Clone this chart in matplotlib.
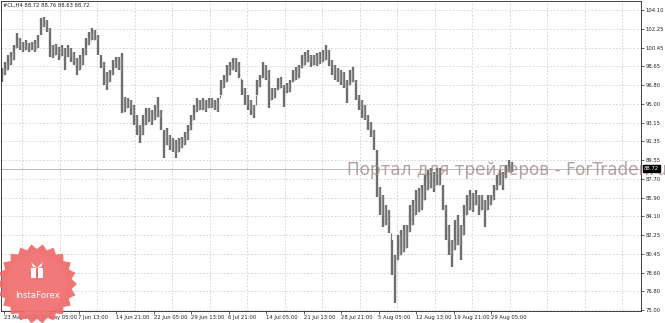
import matplotlib
matplotlib.use("Agg")
import matplotlib.pyplot as plt
from matplotlib.patches import Polygon, Rectangle
import numpy as np

W, H = 665, 323

title_text = "#CL,H4 88.72 88.76 88.63 88.72"
last_price = 88.72
watermark = "Портал для трейдеров - ForTrader.ru"

bar_high = [98.47, 99.06, 99.74, 100.03, 100.71, 101.87, 101.38, 100.99, 101.19, 100.90,
            100.99, 101.19, 101.68, 103.32, 103.42, 103.13, 102.35, 100.71, 100.80, 100.51,
            100.71, 100.41, 100.71, 100.41, 100.03, 99.44, 99.74, 100.41, 101.38, 101.97,
            102.35, 102.16, 101.68, 99.74, 99.06, 98.09, 98.28, 99.25, 99.54, 99.54,
            99.93, 95.66, 95.56, 95.37, 94.89, 93.92, 92.95, 93.92, 94.59, 94.59,
            94.40, 94.89, 95.66, 94.40, 92.46, 92.65, 91.98, 91.68, 91.49, 91.68,
            91.78, 92.27, 92.95, 93.92, 94.89, 95.56, 95.37, 95.56, 95.37, 95.56,
            95.56, 95.37, 95.56, 97.31, 97.80, 98.77, 99.06, 99.44, 99.44, 99.06,
            97.31, 96.54, 95.86, 95.37, 94.89, 97.31, 97.80, 99.06, 98.77, 98.28,
            96.54, 96.54, 97.50, 97.60, 96.83, 97.02, 97.31, 98.28, 98.57, 98.77,
            99.74, 100.03, 100.22, 99.74, 99.74, 99.93, 100.03, 100.22, 100.71, 100.22,
            99.25, 98.77, 98.47, 98.28, 98.09, 97.31, 98.28, 98.57, 97.31, 95.86,
            95.37, 94.89, 93.92, 93.24, 92.46, 90.52, 86.93, 86.16, 85.19, 84.70,
            81.79, 80.34, 82.27, 82.76, 83.25, 83.25, 85.19, 85.67, 86.64, 86.83,
            87.13, 88.10, 88.58, 88.77, 88.39, 88.77, 88.77, 87.13, 85.19, 83.25,
            81.79, 83.73, 84.22, 83.25, 85.19, 86.16, 86.64, 86.35, 86.64, 86.16,
            86.16, 85.67, 86.16, 86.16, 87.13, 88.10, 88.58, 88.39, 89.06, 89.55,
            89.36]
bar_low = [97.12, 97.80, 98.28, 98.77, 99.25, 100.41, 100.22, 100.03, 100.22, 100.03,
           100.22, 100.03, 100.41, 101.68, 102.45, 101.97, 99.54, 99.44, 99.74, 99.25,
           99.64, 98.28, 99.54, 99.06, 98.77, 97.80, 98.28, 98.77, 99.74, 100.71,
           101.19, 101.19, 99.74, 98.47, 96.83, 96.34, 97.12, 97.80, 98.47, 98.28,
           94.11, 94.21, 94.59, 93.92, 92.95, 92.00, 91.20, 92.00, 92.95, 93.24,
           92.95, 93.43, 93.72, 92.46, 89.74, 91.01, 90.52, 90.33, 89.74, 90.33,
           90.71, 91.01, 91.49, 92.46, 93.43, 94.21, 94.40, 94.40, 94.21, 94.59,
           94.59, 94.40, 94.21, 95.86, 96.54, 97.12, 97.80, 98.28, 98.09, 97.50,
           95.86, 94.89, 94.40, 93.92, 93.62, 95.86, 96.63, 97.50, 97.31, 94.59,
           95.37, 95.56, 96.34, 96.54, 94.69, 96.05, 96.15, 97.12, 97.31, 97.50,
           98.47, 98.77, 99.06, 98.57, 98.77, 98.67, 98.86, 99.06, 99.25, 98.67,
           97.80, 97.31, 97.12, 96.83, 96.54, 95.08, 96.83, 97.12, 95.37, 94.40,
           93.62, 93.43, 92.46, 91.78, 90.52, 85.96, 84.22, 83.05, 83.25, 82.47,
           78.39, 75.68, 79.85, 80.34, 80.63, 81.01, 82.57, 83.25, 84.22, 84.51,
           84.70, 85.67, 86.64, 86.83, 86.45, 87.13, 87.13, 84.70, 81.79, 80.34,
           79.17, 80.82, 81.31, 79.85, 82.27, 84.22, 84.70, 84.51, 85.19, 84.22,
           84.70, 83.05, 84.70, 85.19, 85.67, 86.64, 87.13, 86.64, 87.77, 88.36,
           88.36]

price_ticks = [104.10, 102.25, 100.45, 98.65, 96.80, 95.00, 93.15, 91.35, 89.55,
               87.70, 85.90, 84.10, 82.25, 80.45, 78.60, 76.80, 75.00]

date_labels = ["23 May 2013", "31 May 05:00", "7 Jun 13:00", "14 Jun 21:00",
               "22 Jun 05:00", "29 Jun 13:00", "6 Jul 21:00", "14 Jul 05:00",
               "21 Jul 13:00", "28 Jul 21:00", "5 Aug 05:00", "12 Aug 13:00",
               "19 Aug 21:00", "29 Aug 05:00"]
date_pos = [0.5, 13, 25.5, 38, 50.5, 63, 75.5, 88, 100.5, 113, 125.5, 138, 150.5, 163]

fig = plt.figure(figsize=(W / 100, H / 100), dpi=100)
fig.patch.set_facecolor("white")

ax_left, ax_right, ax_top, ax_bottom = 0.5, 641, 1, 311
ax = fig.add_axes([ax_left / W, 1 - ax_bottom / H, (ax_right - ax_left) / W, (ax_bottom - ax_top) / H])
ax.set_facecolor("white")

px_per_bar = 3.0
x = np.arange(len(bar_high))
ax.set_xlim(-0.5, -0.5 + (ax_right - ax_left) / px_per_bar)
ax.set_ylim(74.903, 104.973)

# grid
for p in price_ticks:
    ax.axhline(p, color="#c8c8c8", lw=0.5, ls=(0, (2.5, 2.5)), zorder=0)
grid_x = [date_pos[0] + 6.25 + 12.5 * k for k in range(17)]
for g in grid_x:
    ax.axvline(g, color="#c8c8c8", lw=0.5, ls=(0, (2.5, 2.5)), zorder=0)

# bid line
ax.axhline(last_price, color="#b0b0b0", lw=0.6, zorder=1)

# bars, with thin connectors so the sequence reads as one dense bar chart
hi = np.array(bar_high)
lo = np.array(bar_low)
ax.vlines(x, lo, hi, colors="#6e6e6e", lw=1.7, zorder=2)
for i in range(len(x) - 1):
    a_lo, a_hi = lo[i], hi[i]
    b_lo, b_hi = lo[i + 1], hi[i + 1]
    if b_lo > a_hi:
        ax.vlines(x[i] + 0.5, a_hi, b_lo, colors="#7a7a7a", lw=0.9, zorder=2)
    elif b_hi < a_lo:
        ax.vlines(x[i] + 0.5, b_hi, a_lo, colors="#7a7a7a", lw=0.9, zorder=2)
    else:
        ax.vlines(x[i] + 0.5, max(a_lo, b_lo), min(a_hi, b_hi), colors="#8a8a8a", lw=0.9, zorder=2)

# axes
for s in ["left", "top", "right", "bottom"]:
    ax.spines[s].set_color("#222222")
    ax.spines[s].set_linewidth(0.6)
ax.yaxis.tick_right()
ax.set_yticks(price_ticks)
ax.set_yticklabels([f"{p:.2f}" for p in price_ticks], fontsize=3.8, color="#222222")
ax.tick_params(axis="y", length=2, width=0.5, pad=1.2, colors="#222222")
ax.set_xticks(date_pos)
ax.set_xticklabels(date_labels, fontsize=3.8, ha="left", color="#222222")
ax.tick_params(axis="x", length=2, width=0.5, pad=1.0, colors="#222222")

# watermark
fig.text(347 / W, 1 - 170 / H, watermark, fontsize=12.2, color="#9c8383", alpha=0.75,
         va="center", ha="left", zorder=10)

# current price box (drawn above the watermark)
fig.canvas.draw()
y_disp = ax.transData.transform((0, last_price))[1]
y_fig = fig.transFigure.inverted().transform((0, y_disp))[1]
fig.text(644 / W, y_fig, f"{last_price:.2f}", fontsize=3.8, color="white",
         va="center", ha="left", zorder=12,
         bbox=dict(boxstyle="square,pad=0.25", fc="black", ec="black"))

# title
fig.text(3 / W, 1 - 5.5 / H, title_text, fontsize=3.8, color="#222222", va="center", ha="left")

# InstaForex logo
lax = fig.add_axes([0, 0, 80 / W, 83 / H])
lax.set_xlim(0, 80)
lax.set_ylim(323, 240)
lax.axis("off")
cx, cy, r_out, r_in, n = 37, 284, 40, 35, 22
ang = np.linspace(0, 2 * np.pi, 2 * n, endpoint=False)
rad = np.where(np.arange(2 * n) % 2 == 0, r_out, r_in)
pts = np.column_stack([cx + rad * np.cos(ang), cy + rad * np.sin(ang)])
lax.add_patch(Polygon(pts, closed=True, fc="#ef6a6a", ec="none", alpha=0.92))
circ_ang = np.linspace(0, 2 * np.pi, 80)
lax.add_patch(Polygon(np.column_stack([cx + 30 * np.cos(circ_ang), cy + 30 * np.sin(circ_ang)]),
                      closed=True, fc="#f27c7c", ec="none", alpha=0.6))
# gift icon
lax.add_patch(Rectangle((31, 268), 12, 10, fc="white", ec="none"))
lax.add_patch(Rectangle((36, 268), 2, 10, fc="#ef6a6a", ec="none"))
lax.add_patch(Polygon([[37, 268], [31, 262], [33, 267]], closed=True, fc="white", ec="none"))
lax.add_patch(Polygon([[37, 268], [43, 262], [41, 267]], closed=True, fc="white", ec="none"))
lax.text(cx, 295, "InstaForex", fontsize=6.2, color="white", ha="center", va="center")

fig.savefig("out.png", dpi=100, facecolor="white")
